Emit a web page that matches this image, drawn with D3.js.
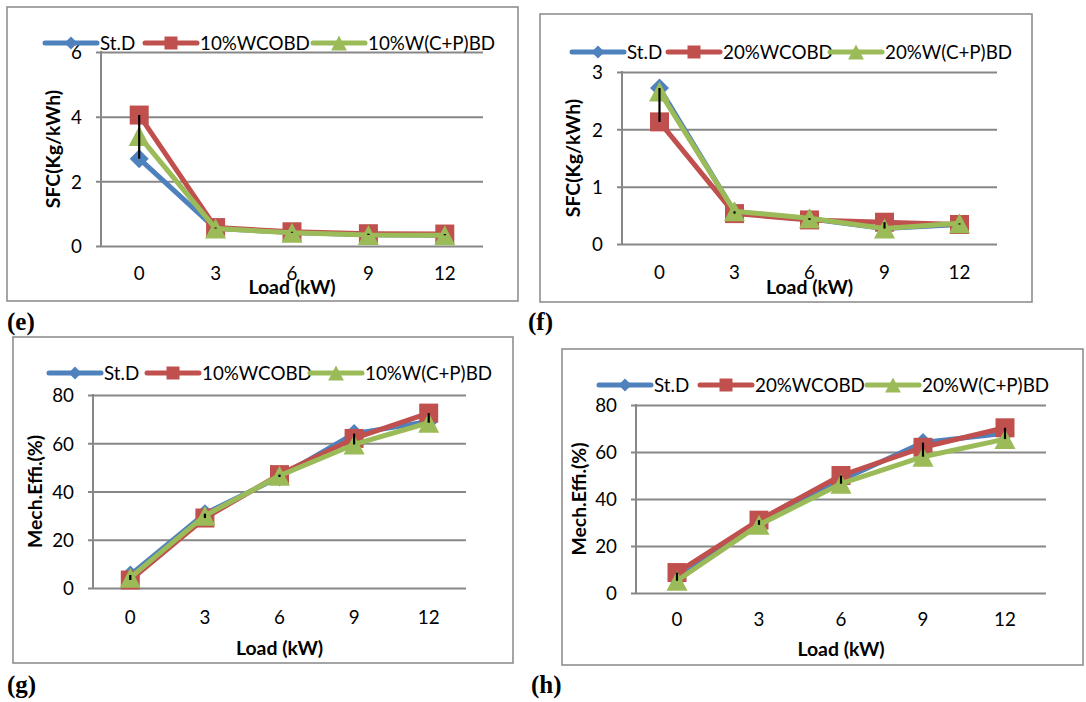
<!DOCTYPE html>
<html>
<head>
<meta charset="utf-8">
<script src="https://cdn.jsdelivr.net/npm/d3@7"></script>
<style>
html,body{margin:0;padding:0;background:#fff;}
svg{display:block;}
</style>
</head>
<body>
<svg id="chart" width="1086" height="702"></svg>
<script>
// ---------------- DATA ----------------
const categories = ["0", "3", "6", "9", "12"];
const xAxisTitle = "Load (kW)";

const legend10 = ["St.D", "10%WCOBD", "10%W(C+P)BD"];
const legend20 = ["St.D", "20%WCOBD", "20%W(C+P)BD"];

// (e) SFC, 10% blends
const sfcStD10   = [2.70, 0.54, 0.42, 0.35, 0.33];
const sfcWCOBD10 = [4.05, 0.57, 0.44, 0.38, 0.37];
const sfcWCPBD10 = [3.40, 0.54, 0.41, 0.34, 0.33];
// (f) SFC, 20% blends
const sfcStD20   = [2.72, 0.56, 0.44, 0.27, 0.34];
const sfcWCOBD20 = [2.13, 0.53, 0.42, 0.38, 0.34];
const sfcWCPBD20 = [2.66, 0.57, 0.45, 0.27, 0.36];
// (g) Mechanical efficiency, 10% blends
const mechStD10   = [5.4, 30.8, 46.0, 64.0, 69.0];
const mechWCOBD10 = [3.3, 29.0, 47.0, 62.0, 72.5];
const mechWCPBD10 = [4.3, 30.0, 46.5, 59.5, 68.5];
// (h) Mechanical efficiency, 20% blends
const mechStD20   = [6.0, 30.0, 48.0, 64.0, 68.0];
const mechWCOBD20 = [8.7, 31.0, 50.0, 62.0, 70.3];
const mechWCPBD20 = [5.2, 29.0, 46.5, 58.0, 65.5];

const sfcTicks6 = [0, 2, 4, 6];
const sfcTicks3 = [0, 1, 2, 3];
const mechTicks = [0, 20, 40, 60, 80];

const seriesColors = ["#4F81BD", "#C0504D", "#9BBB59"];
const markerShapes = ["diamond", "square", "triangle"];

// ---------------- LAYOUT ----------------
const panels = [
  { label: "(e)", labelX: 7, labelY: 330,
    box: {x: 7, y: 7, w: 511, h: 294},
    plot: {left: 101, right: 483, top: 52, bottom: 246},
    domain: [0, 6], ticks: sfcTicks6, yTitle: "SFC(Kg/kWh)", yTitleX: 53,
    tickY: 27, xTitleY: 287, legendY: 43, legendX: [45, 145, 313],
    names: legend10, values: [sfcStD10, sfcWCOBD10, sfcWCPBD10] },
  { label: "(f)", labelX: 528, labelY: 330,
    box: {x: 540, y: 14, w: 492, h: 288},
    plot: {left: 622, right: 997, top: 72, bottom: 244},
    domain: [0, 3], ticks: sfcTicks3, yTitle: "SFC(Kg/kWh)", yTitleX: 573,
    tickY: 28, xTitleY: 287, legendY: 52, legendX: [572, 668, 830],
    names: legend20, values: [sfcStD20, sfcWCOBD20, sfcWCPBD20] },
  { label: "(g)", labelX: 7, labelY: 693,
    box: {x: 13, y: 337, w: 500, h: 326},
    plot: {left: 93, right: 466, top: 395, bottom: 588},
    domain: [0, 80], ticks: mechTicks, yTitle: "Mech.Effi.(%)", yTitleX: 35,
    tickY: 29, xTitleY: 648, legendY: 373, legendX: [49, 147, 310],
    names: legend10, values: [mechStD10, mechWCOBD10, mechWCPBD10] },
  { label: "(h)", labelX: 531, labelY: 693,
    box: {x: 562, y: 349, w: 521, h: 316},
    plot: {left: 636, right: 1046, top: 405, bottom: 593},
    domain: [0, 80], ticks: mechTicks, yTitle: "Mech.Effi.(%)", yTitleX: 579,
    tickY: 26, xTitleY: 649, legendY: 385, legendX: [599, 700, 867],
    names: legend20, values: [mechStD20, mechWCOBD20, mechWCPBD20] }
];

const FONT = "Lato, 'Open Sans', sans-serif";
const GRID = "#878787";
const TEXT_SIZE = 18.8;
const TITLE_SIZE = 19.4;

const svg = d3.select("#chart");
svg.append("rect").attr("width", 1086).attr("height", 702).attr("fill", "#fff");

function markerPath(shape, s) {
  const h = s / 2;
  if (shape === "square") return `M${-h},${-h}H${h}V${h}H${-h}Z`;
  if (shape === "diamond") return `M0,${-h}L${h},0L0,${h}L${-h},0Z`;
  return `M0,${-h}L${h * 1.05},${h}L${-h * 1.05},${h}Z`;
}
const chartMarkerSize = [19, 19, 20];
const legendMarkerSize = [13, 13, 15];

panels.forEach(p => {
  const g = svg.append("g");
  const width = p.plot.right - p.plot.left;

  g.append("rect")
    .attr("x", p.box.x).attr("y", p.box.y)
    .attr("width", p.box.w).attr("height", p.box.h)
    .attr("fill", "none").attr("stroke", "#8f8f8f").attr("stroke-width", 1.6);

  const x = d3.scaleBand().domain(categories).range([p.plot.left, p.plot.right]);
  const y = d3.scaleLinear().domain(p.domain).range([p.plot.bottom, p.plot.top]);
  const cx = c => x(c) + x.bandwidth() / 2;

  const ya = g.append("g")
    .attr("transform", `translate(${p.plot.left},0)`)
    .call(d3.axisLeft(y).tickValues(p.ticks).tickFormat(d3.format("d"))
      .tickSizeInner(-width).tickSizeOuter(0).tickPadding(19));
  ya.select(".domain").remove();
  ya.selectAll(".tick line").attr("x1", -5).attr("stroke", GRID).attr("stroke-width", 2);
  ya.selectAll(".tick text")
    .attr("font-family", FONT).attr("font-size", TEXT_SIZE).attr("fill", "#000").attr("dy", "0.36em");

  g.append("line")
    .attr("x1", p.plot.left).attr("x2", p.plot.left)
    .attr("y1", p.plot.top - 1).attr("y2", p.plot.bottom + 1)
    .attr("stroke", GRID).attr("stroke-width", 2);

  const xa = g.append("g")
    .attr("transform", `translate(0,${p.plot.bottom})`)
    .call(d3.axisBottom(x).tickSize(0).tickPadding(p.tickY));
  xa.select(".domain").remove();
  xa.selectAll(".tick text")
    .attr("y", p.tickY).attr("dy", "0.36em")
    .attr("font-family", FONT).attr("font-size", TEXT_SIZE).attr("fill", "#000");

  g.append("text")
    .attr("x", (p.plot.left + p.plot.right) / 2).attr("y", p.xTitleY).attr("dy", "0.36em")
    .attr("text-anchor", "middle").attr("font-family", FONT).attr("font-weight", "bold")
    .attr("font-size", TITLE_SIZE).attr("fill", "#000").text(xAxisTitle);
  g.append("text")
    .attr("transform", `translate(${p.yTitleX},${(p.plot.top + p.plot.bottom) / 2}) rotate(-90)`)
    .attr("dy", "0.36em")
    .attr("text-anchor", "middle").attr("font-family", FONT).attr("font-weight", "bold")
    .attr("font-size", TITLE_SIZE).attr("fill", "#000").text(p.yTitle);

  const line = d3.line().x((d, i) => cx(categories[i])).y(d => y(d));
  p.values.forEach((vals, si) => {
    g.append("path").datum(vals)
      .attr("d", line)
      .attr("fill", "none").attr("stroke", seriesColors[si])
      .attr("stroke-width", 5).attr("stroke-linejoin", "round");
    g.selectAll(null).data(vals).enter().append("path")
      .attr("transform", (d, i) => `translate(${cx(categories[i])},${y(d)})`)
      .attr("d", markerPath(markerShapes[si], chartMarkerSize[si]))
      .attr("fill", seriesColors[si]);
  });

  categories.forEach((c, i) => {
    const vs = p.values.map(v => v[i]);
    g.append("line")
      .attr("x1", cx(c)).attr("x2", cx(c))
      .attr("y1", y(d3.max(vs))).attr("y2", y(d3.min(vs)))
      .attr("stroke", "#000").attr("stroke-width", 2.2);
  });

  p.names.forEach((name, si) => {
    const lx = p.legendX[si];
    g.append("line")
      .attr("x1", lx).attr("x2", lx + 52).attr("y1", p.legendY).attr("y2", p.legendY)
      .attr("stroke", seriesColors[si]).attr("stroke-width", 5).attr("stroke-linecap", "round");
    g.append("path")
      .attr("transform", `translate(${lx + 26},${p.legendY})`)
      .attr("d", markerPath(markerShapes[si], legendMarkerSize[si]))
      .attr("fill", seriesColors[si]);
    g.append("text")
      .attr("x", lx + 55).attr("y", p.legendY).attr("dy", "0.36em")
      .attr("font-family", FONT).attr("font-size", TEXT_SIZE).attr("fill", "#000").text(name);
  });

  svg.append("text")
    .attr("x", p.labelX).attr("y", p.labelY)
    .attr("font-family", "'Liberation Serif', 'Times New Roman', serif")
    .attr("font-weight", "bold").attr("font-size", 25).attr("fill", "#000").text(p.label);
});
</script>
</body>
</html>
